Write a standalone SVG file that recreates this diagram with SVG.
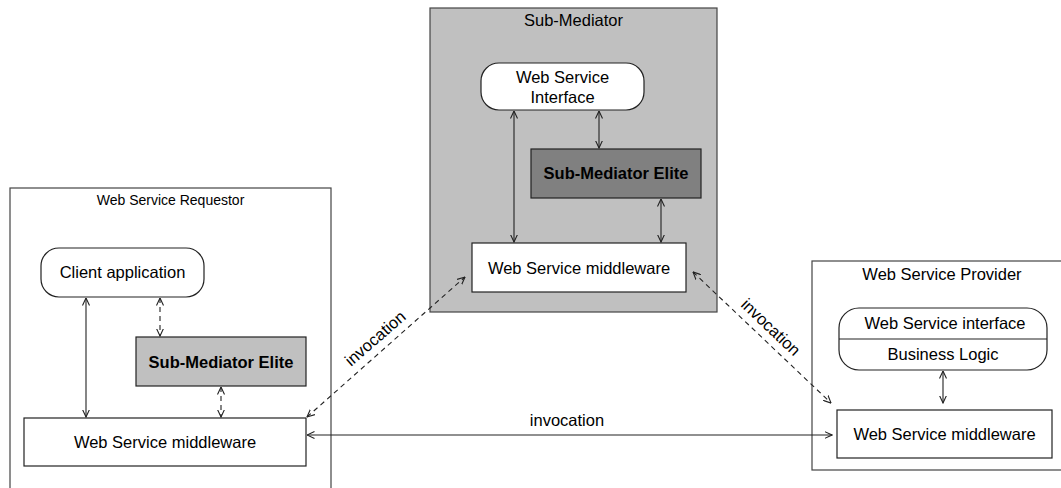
<svg xmlns="http://www.w3.org/2000/svg" width="1061" height="488" viewBox="0 0 1061 488">
<style>
text{font-family:"Liberation Sans",Arial,sans-serif;fill:#000;text-anchor:middle}
.t{font-size:16.5px}
.ts{font-size:14px}
.b{font-size:16.5px;font-weight:bold}
.box{fill:#fff;stroke:#222;stroke-width:1.2}
.cont{fill:#fff;stroke:#444;stroke-width:1.2}
.c{fill:none;stroke:#222;stroke-width:1.1;marker-start:url(#a);marker-end:url(#a)}
.d{stroke-dasharray:5,4}
</style>
<defs>
<marker id="a" viewBox="0 0 8 8" refX="7.5" refY="4" markerWidth="8" markerHeight="8" markerUnits="userSpaceOnUse" orient="auto-start-reverse">
<path d="M0,0.5 L7.5,4 L0,7.5" fill="none" stroke="#222" stroke-width="1.1"/>
</marker>
</defs>

<g id="requestor">
<rect class="cont" x="10" y="188" width="321" height="320"/>
<text class="ts" x="170.5" y="205">Web Service Requestor</text>
</g>
<g id="submediator">
<rect x="430" y="8" width="287" height="304" fill="#c0c0c0" stroke="#444" stroke-width="1.2"/>
<text class="t" x="573.5" y="26">Sub-Mediator</text>
</g>
<g id="provider">
<rect class="cont" x="812" y="261" width="260" height="209"/>
<text class="t" x="942" y="280">Web Service Provider</text>
</g>

<g id="client-app">
<rect class="box" x="41" y="248" width="163" height="49" rx="18"/>
<text class="t" x="122.5" y="278">Client application</text>
</g>
<g id="elite-left">
<rect x="136" y="337" width="170" height="49" fill="#c0c0c0" stroke="#222" stroke-width="1.2"/>
<text class="b" x="221" y="368">Sub-Mediator Elite</text>
</g>
<g id="middleware-left">
<rect class="box" x="24" y="418" width="282" height="48"/>
<text class="t" x="165" y="448">Web Service middleware</text>
</g>

<g id="ws-interface">
<rect class="box" x="481" y="63" width="163" height="47" rx="18"/>
<text class="t" x="562.5" y="83">Web Service</text>
<text class="t" x="562.5" y="103">Interface</text>
</g>
<g id="elite-center">
<rect x="531" y="149" width="170" height="49" fill="#808080" stroke="#222" stroke-width="1.2"/>
<text class="b" x="616" y="179">Sub-Mediator Elite</text>
</g>
<g id="middleware-center">
<rect class="box" x="472" y="243" width="214" height="49"/>
<text class="t" x="579" y="274">Web Service middleware</text>
</g>

<g id="provider-interface">
<rect class="box" x="839" y="308" width="208" height="62" rx="20"/>
<line x1="839" y1="339" x2="1047" y2="339" stroke="#222" stroke-width="1.2"/>
<text class="t" x="945" y="329">Web Service interface</text>
<text class="t" x="943" y="360">Business Logic</text>
</g>
<g id="middleware-right">
<rect class="box" x="837" y="410" width="215" height="48"/>
<text class="t" x="944.5" y="440">Web Service middleware</text>
</g>

<g id="connectors">
<line class="c" x1="86" y1="298" x2="86" y2="417"/>
<line class="c d" x1="160" y1="298" x2="160" y2="336"/>
<line class="c d" x1="221" y1="387" x2="221" y2="417"/>
<line class="c" x1="514" y1="111" x2="514" y2="242"/>
<line class="c" x1="599" y1="111" x2="599" y2="148"/>
<line class="c" x1="661" y1="199" x2="661" y2="242"/>
<line class="c" x1="943" y1="371" x2="943" y2="403"/>
<line class="c" x1="307" y1="435" x2="832" y2="435"/>
<line class="c d" x1="307" y1="417" x2="465" y2="277"/>
<line class="c d" x1="693" y1="272" x2="831" y2="403"/>
<text class="t" x="567" y="426">invocation</text>
<text class="t" transform="translate(375,338) rotate(-41)" y="6">invocation</text>
<text class="t" transform="translate(771,327) rotate(43.5)" y="6">invocation</text>
</g>
</svg>
